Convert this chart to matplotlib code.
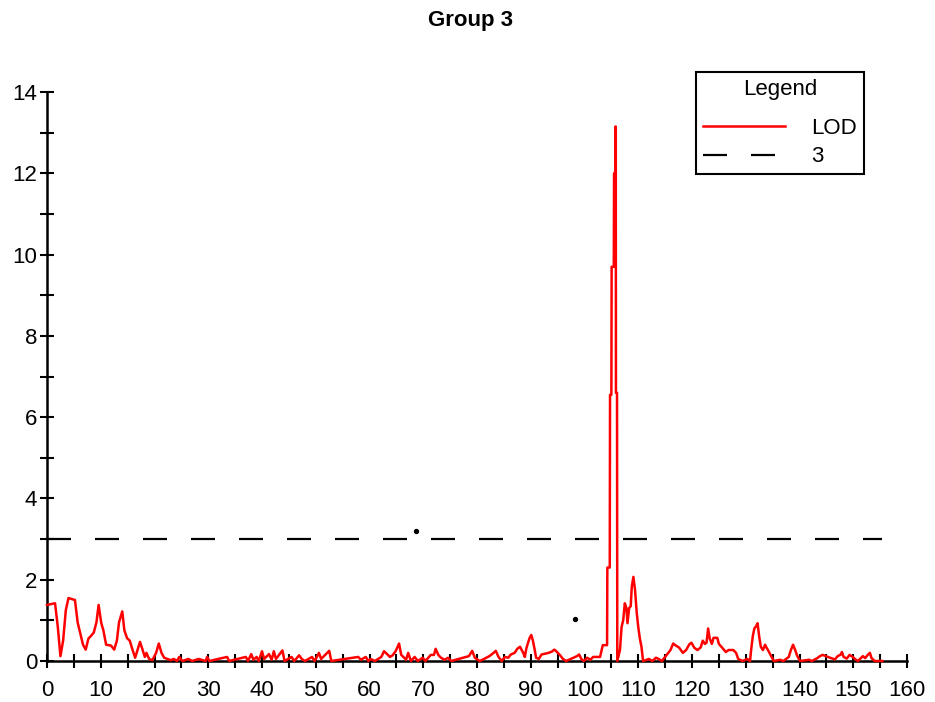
import numpy as np
import matplotlib
matplotlib.use('Agg')
import matplotlib.pyplot as plt
from matplotlib.ticker import MultipleLocator

plt.rcParams['font.family'] = ['Liberation Sans', 'DejaVu Sans']
plt.rcParams['font.size'] = 16

# LOD profile along the linkage group (cM, LOD)
pos = [0, 1.5, 2.0, 2.5, 3.0, 3.5, 4.0, 5.2, 5.7, 6.2, 6.7, 7.2, 7.7, 8.2, 8.7, 9.2,
       9.6, 10.1, 10.5, 11.0, 11.9, 12.5, 13.0, 13.4, 14.0, 14.4, 14.9, 15.4, 15.9, 16.4,
       16.9, 17.3, 17.8, 18.2, 18.5, 19.0, 19.6, 20.3, 20.8, 21.3, 21.8, 22.4, 23.0, 23.6,
       24.2, 24.6, 25.2, 26.3, 27.0, 28.2, 29.5, 29.8, 30.2, 33.5, 33.9, 37.0, 37.4, 38.0,
       38.4, 39.0, 39.4, 40.0, 40.4, 41.3, 41.8, 42.2, 42.6, 43.8, 44.2, 45.5, 46.0, 46.9,
       47.4, 48.0, 49.3, 49.8, 50.6, 51.0, 52.5, 52.9, 57.9, 58.4, 59.3, 59.8, 60.2, 61.0,
       62.2, 62.7, 63.2, 63.8, 64.3, 64.9, 65.5, 65.9, 66.3, 66.8, 67.2, 67.7, 68.4, 69.0,
       69.9, 70.4, 71.4, 72.0, 72.3, 72.8, 73.3, 74.0, 74.6, 75.2, 78.5, 79.1, 79.6, 80.5,
       81.3, 82.3, 82.9, 83.5, 84.0, 84.6, 85.2, 85.8, 86.3, 87.0, 87.5, 88.0, 88.6, 88.9,
       89.2, 89.5, 89.8, 90.1, 90.4, 90.7, 91.0, 91.5, 92.0, 92.7, 93.3, 93.9, 94.4, 94.9,
       95.4, 96.0, 96.6, 98.6, 99.0, 99.4, 99.9, 100.5, 101.1, 101.6, 102.9, 103.4,
       104.2, 104.25, 104.7, 104.75, 105.0, 105.05, 105.45, 105.5, 105.72, 105.75, 105.82,
       105.85, 106.05, 106.1, 106.6, 106.9, 107.2, 107.5, 107.8, 108.0, 108.3, 108.6,
       108.8, 109.1, 109.4, 109.7, 110.0, 110.3, 110.6, 110.9, 112.0, 112.6, 113.3, 113.8,
       114.4, 116.0, 116.5, 117.0, 117.6, 118.3, 118.9, 119.5, 119.9, 120.4, 121.0, 121.6,
       122.0, 122.4, 122.7, 123.0, 123.3, 123.7, 124.0, 124.7, 125.0, 125.6, 126.3, 126.8,
       127.7, 128.2, 128.6, 129.4, 130.3, 130.8, 131.0, 131.3, 131.6, 131.9, 132.2, 132.5,
       132.8, 133.2, 133.6, 133.9, 134.3, 134.6, 134.9, 135.2, 136.4, 137.0, 138.0, 138.4,
       138.8, 139.2, 139.5, 139.8, 140.1, 141.8, 142.3, 143.3, 143.8, 144.3, 145.9, 146.6,
       147.1, 147.6, 147.9, 148.2, 148.8, 149.3, 149.9, 150.4, 150.9, 151.4, 151.8, 152.2,
       152.7, 153.1, 153.4, 154.0, 155.4]
lod = [1.38, 1.42, 0.85, 0.12, 0.5, 1.25, 1.55, 1.5, 0.95, 0.68, 0.4, 0.28, 0.55, 0.62, 0.7, 0.95,
       1.38, 0.93, 0.75, 0.4, 0.38, 0.28, 0.5, 0.95, 1.22, 0.75, 0.56, 0.5, 0.28, 0.08,
       0.3, 0.47, 0.27, 0.1, 0.2, 0.05, 0.02, 0.2, 0.43, 0.2, 0.08, 0.05, 0.02, 0.05,
       0.0, 0.1, 0.0, 0.05, 0.0, 0.05, 0.0, 0.1, 0.0, 0.1, 0.0, 0.1, 0.0, 0.17,
       0.03, 0.1, 0.0, 0.24, 0.05, 0.17, 0.03, 0.24, 0.05, 0.26, 0.0, 0.1, 0.0, 0.14,
       0.05, 0.0, 0.1, 0.0, 0.2, 0.05, 0.25, 0.0, 0.1, 0.03, 0.1, 0.0, 0.05, 0.0,
       0.1, 0.24, 0.18, 0.1, 0.14, 0.25, 0.43, 0.15, 0.1, 0.03, 0.2, 0.0, 0.1, 0.0,
       0.08, 0.0, 0.15, 0.15, 0.3, 0.15, 0.08, 0.03, 0.08, 0.0, 0.12, 0.25, 0.08, 0.0,
       0.05, 0.12, 0.18, 0.25, 0.1, 0.0, 0.1, 0.08, 0.16, 0.2, 0.3, 0.35, 0.2, 0.1,
       0.32, 0.45, 0.57, 0.64, 0.5, 0.3, 0.08, 0.05, 0.16, 0.18, 0.2, 0.23, 0.28, 0.22,
       0.15, 0.05, 0.0, 0.12, 0.16, 0.05, 0.0, 0.08, 0.03, 0.1, 0.1, 0.39,
       0.39, 2.3, 2.3, 6.55, 6.55, 9.7, 9.7, 12.0, 12.0, 13.15, 13.15,
       6.6, 6.6, 0.0, 0.27, 0.84, 1.0, 1.42, 1.3, 0.93, 1.3, 1.35,
       1.83, 2.07, 1.75, 1.21, 0.84, 0.55, 0.35, 0.0, 0.05, 0.0, 0.08, 0.05,
       0.0, 0.27, 0.43, 0.38, 0.33, 0.2, 0.27, 0.41, 0.45, 0.33, 0.27, 0.33,
       0.5, 0.42, 0.45, 0.8, 0.55, 0.42, 0.57, 0.57, 0.42, 0.33, 0.22, 0.27,
       0.27, 0.2, 0.05, 0.0, 0.05, 0.0, 0.27, 0.6, 0.8, 0.85, 0.93, 0.6,
       0.35, 0.27, 0.4, 0.32, 0.23, 0.15, 0.08, 0.0, 0.03, 0.0, 0.1, 0.27,
       0.4, 0.27, 0.15, 0.07, 0.0, 0.03, 0.0, 0.07, 0.12, 0.15, 0.07, 0.04,
       0.12, 0.15, 0.22, 0.1, 0.06, 0.15, 0.1, 0.04, 0.0, 0.07, 0.12, 0.07,
       0.15, 0.2, 0.07, 0.0, 0.0]

threshold = 3
# two stray points in the original plot
dot_x = [68.7, 98.2]
dot_y = [3.2, 1.03]

fig = plt.figure(figsize=(9.35, 7.02), dpi=100)
ax = fig.add_axes([47 / 935, 41 / 702, 860 / 935, 569 / 702])

ax.plot(pos, lod, color='red', lw=1.8, clip_on=False, zorder=3, label='LOD')
ax.plot([pos[0], 155.3], [threshold, threshold], color='black', lw=1.6,
        dashes=(10.8, 10.8), label=str(threshold))
ax.scatter(dot_x, dot_y, color='black', s=8, zorder=4)

ax.set_xlim(0, 160)
ax.set_ylim(0, 14)
ax.xaxis.set_major_locator(MultipleLocator(10))
ax.xaxis.set_minor_locator(MultipleLocator(5))
ax.yaxis.set_major_locator(MultipleLocator(2))
ax.yaxis.set_minor_locator(MultipleLocator(1))
ax.tick_params(which='both', direction='inout', length=10, width=1.5, color='black')
ax.tick_params(axis='both', which='major', labelsize=16)
ax.tick_params(axis='x', which='major', pad=9)
ax.tick_params(axis='y', which='major', pad=2)

for s in ['top', 'right']:
    ax.spines[s].set_visible(False)
for s in ['left', 'bottom']:
    ax.spines[s].set_linewidth(1.8)

fig.text(0.503, 0.971, 'Group 3', ha='center', va='center', fontsize=16, fontweight='bold')

leg = ax.legend(title='Legend', loc='upper left', bbox_to_anchor=(696 / 935, 1 - 72 / 702),
                bbox_transform=fig.transFigure, borderaxespad=0, fancybox=False,
                edgecolor='black', framealpha=1, fontsize=16, title_fontsize=16,
                handlelength=3.7, handletextpad=1.2, borderpad=0.3, labelspacing=0.35)
leg.get_frame().set_linewidth(1.5)
leg._legend_box.sep = 13  # more room under the title, as in the original

fig.savefig('out.png', dpi=100)
